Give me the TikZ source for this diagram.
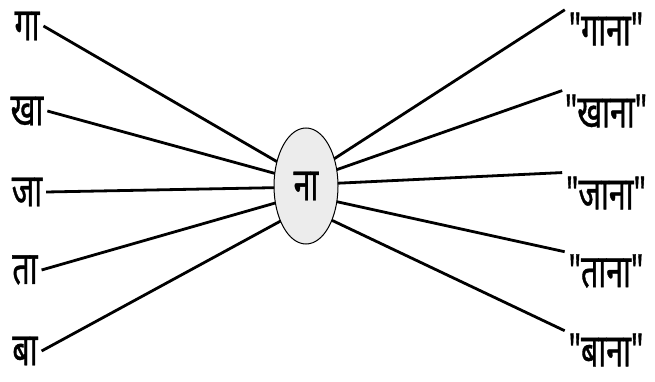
\documentclass[tikz,border=0pt]{standalone}
\usepackage{fontspec}
\usetikzlibrary{shapes.geometric}
\newfontfamily\hindi[Script=Devanagari, FakeStretch=0.66, FakeBold=0.8]{Noto Sans}
\begin{document}
\begin{tikzpicture}[
x=1pt, y=-1pt, % Tọa độ theo điểm ảnh, trục y đi xuống
word/.style={font=\hindi\fontsize{46}{48}\selectfont, inner sep=1pt, outer sep=3pt},
link/.style={line width=2.8pt, black},
hub/.style={ellipse, draw, fill=gray!15, line width=1pt, minimum width=64pt, minimum height=116pt, inner sep=0pt, outer sep=0pt}
]
\useasboundingbox (0,0) rectangle (655,382);

% --- Nút trung tâm ---
\node[hub, word, outer sep=0pt] (na) at (306,186) {ना};

% --- Cột trái ---
\node[word] (gaa) at (27,26) {गा};
\node[word] (khaa) at (27,111) {खा};
\node[word] (jaa) at (27,192) {जा};
\node[word] (taa) at (25,270) {ता};
\node[word] (baa) at (25,351) {बा};

% --- Cột phải ---
\node[word] (gaana) at (606,29) {"गाना"};
\node[word] (khaana) at (606,111) {"खाना"};
\node[word] (jaana) at (606,193) {"जाना"};
\node[word] (taana) at (606,271) {"ताना"};
\node[word] (baana) at (606,350) {"बाना"};

% Nối cột trái vào nút trung tâm
\draw[link] (gaa.east) -- (na.140);
\draw[link] (khaa.east) -- (na.158);
\draw[link] (jaa.east) -- (na.183);
\draw[link] (taa.east) -- (na.209);
\draw[link] (baa.east) -- (na.234);

% Nối nút trung tâm ra cột phải
\draw[link] (na.44) -- (gaana.155);
\draw[link] (na.28) -- (khaana.155);
\draw[link] (na.5) -- (jaana.155);
\draw[link] (na.333) -- (taana.155);
\draw[link] (na.307) -- (baana.155);

\end{tikzpicture}
\end{document}
